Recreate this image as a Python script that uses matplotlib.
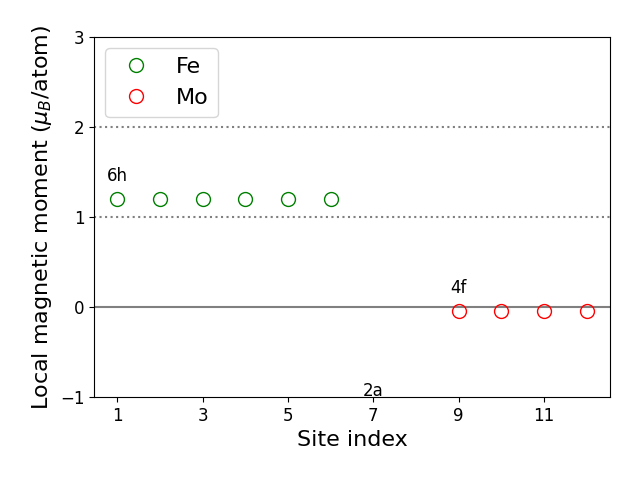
import matplotlib
matplotlib.use("Agg")
import matplotlib.pyplot as plt

fe_sites = [1, 2, 3, 4, 5, 6]
fe_moments = [1.2, 1.2, 1.2, 1.2, 1.2, 1.2]
mo_sites = [9, 10, 11, 12]
mo_moments = [-0.04, -0.04, -0.04, -0.04]
labels = ["6h", "4f", "2a"]
label_x = [1, 9, 7]
label_y = [1.36, 0.11, -1.03]

fig, ax = plt.subplots(figsize=(6.4, 4.8), dpi=100)
fig.subplots_adjust(left=94/640, right=610/640, top=1-37/480, bottom=1-397/480)
ax.axhline(0, color="gray", lw=1.5, zorder=1)
ax.axhline(1, color="gray", ls=":", lw=1.5, zorder=1)
ax.axhline(2, color="gray", ls=":", lw=1.5, zorder=1)
ax.plot(fe_sites, fe_moments, "o", mfc="none", mec="green", ms=10, label="Fe", zorder=3)
ax.plot(mo_sites, mo_moments, "o", mfc="none", mec="red", ms=10, label="Mo", zorder=3)
for t, x, y in zip(labels, label_x, label_y):
    ax.text(x, y, t, fontsize=12, ha="center", va="bottom")
ax.set_ylim(-1, 3)
ax.set_yticks([-1, 0, 1, 2, 3])
ax.set_xticks([1, 3, 5, 7, 9, 11])
ax.tick_params(labelsize=12)
ax.set_xlabel("Site index", fontsize=16)
ax.set_ylabel(r"Local magnetic moment ($\mu_B$/atom)", fontsize=16)
ax.legend(fontsize=16, loc="upper left")
fig.savefig("out.png")
